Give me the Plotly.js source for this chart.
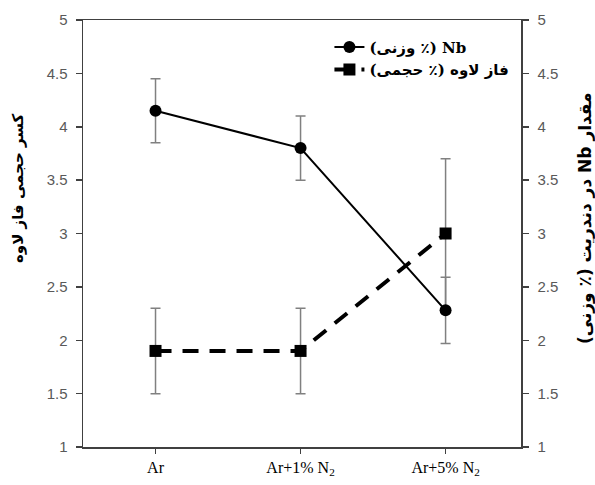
<!DOCTYPE html>
<html><head><meta charset="utf-8">
<script src="https://cdn.plot.ly/plotly-3.0.1.min.js"></script>
<style>body{margin:0;padding:0;background:#fff}#chart{width:595px;height:485px}</style>
</head><body><div id="chart"></div>
<script>
const categories = ["Ar", "Ar+1% N<sub>2</sub>", "Ar+5% N<sub>2</sub>"];
const nbValues = [4.15, 3.80, 2.28];
const nbErrors = [0.30, 0.30, 0.31];
const lavesValues = [1.90, 1.90, 3.00];
const lavesErrors = [0.40, 0.40, 0.70];
const nbName = "(وزنی ٪) Nb";
const lavesName = "فاز لاوه (٪ حجمی)";
const leftTitle = "کسر حجمی فاز لاوه";
const rightTitle = "\u2067مقدار <b>Nb</b> در دندریت (٪ وزنی)\u2069";
const yTicks = [1, 1.5, 2, 2.5, 3, 3.5, 4, 4.5, 5];

const xIdx = categories.map((c, i) => i);

const traces = [
  {
    x: xIdx, y: nbValues, name: nbName, yaxis: 'y2', type: 'scatter', mode: 'lines+markers',
    line: {color: '#000', width: 2},
    marker: {symbol: 'circle', size: 12, color: '#000'},
    error_y: {type: 'data', array: nbErrors, visible: true, color: '#808080', thickness: 1.5, width: 5}
  },
  {
    x: xIdx, y: lavesValues, name: lavesName, yaxis: 'y', type: 'scatter', mode: 'lines+markers',
    line: {color: '#000', width: 4, dash: '16px,11px'},
    marker: {symbol: 'square', size: 12, color: '#000'},
    error_y: {type: 'data', array: lavesErrors, visible: true, color: '#808080', thickness: 1.5, width: 5}
  }
];

const tickFont = {family: 'Liberation Sans, Arial, sans-serif', size: 15, color: '#595959'};
const layout = {
  width: 595, height: 485,
  margin: {l: 83, r: 74, t: 20, b: 38},
  paper_bgcolor: '#fff', plot_bgcolor: '#fff',
  showlegend: true,
  legend: {
    x: 0.985, y: 0.975, xanchor: 'right', yanchor: 'top',
    bgcolor: 'rgba(255,255,255,0)', borderwidth: 0,
    font: {family: 'DejaVu Serif, Liberation Serif, DejaVu Sans, serif', size: 15, color: '#000', weight: 'bold'},
    tracegroupgap: 0, itemwidth: 30
  },
  xaxis: {
    range: [-0.5, 2.52], tickvals: xIdx, ticktext: categories,
    showgrid: false, zeroline: false,
    showline: true, linecolor: '#404040', linewidth: 1.5, mirror: true,
    ticks: 'outside', ticklen: 5, tickcolor: '#404040', tickwidth: 1.5,
    tickfont: {family: 'Liberation Serif, Times New Roman, serif', size: 16, color: '#000'}
  },
  yaxis: {
    range: [1, 5], tickvals: yTicks, ticktext: yTicks.map(String),
    showgrid: false, zeroline: false,
    showline: true, linecolor: '#404040', linewidth: 1.5,
    ticks: 'outside', ticklen: 6, tickcolor: '#404040', tickwidth: 1.5,
    ticklabelstandoff: 5,
    tickfont: tickFont
  },
  yaxis2: {
    range: [1, 5], tickvals: yTicks, ticktext: yTicks.map(String),
    overlaying: 'y', side: 'right',
    showgrid: false, zeroline: false,
    showline: true, linecolor: '#404040', linewidth: 1.5,
    ticks: 'outside', ticklen: 6, tickcolor: '#404040', tickwidth: 1.5,
    ticklabelstandoff: 6,
    tickfont: tickFont
  },
  annotations: [
    {text: leftTitle, xref: 'paper', yref: 'paper', x: -0.148, y: 0.607, xanchor: 'center', yanchor: 'middle',
     textangle: -90, showarrow: false,
     font: {family: 'DejaVu Sans, sans-serif', size: 15, color: '#000', weight: 'bold'}},
    {text: rightTitle, xref: 'paper', yref: 'paper', x: 1.146, y: 0.536, xanchor: 'center', yanchor: 'middle',
     textangle: -90, showarrow: false,
     font: {family: 'DejaVu Sans, sans-serif', size: 17, color: '#000', weight: 'bold'}}
  ]
};

Plotly.newPlot('chart', traces, layout, {staticPlot: true, displayModeBar: false});
</script>
</body></html>
